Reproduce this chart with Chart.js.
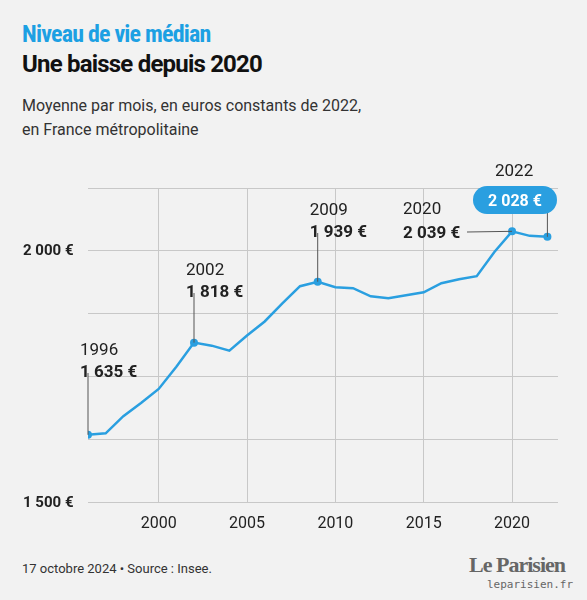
<!DOCTYPE html><html><head><meta charset="utf-8">
<script src="https://cdn.jsdelivr.net/npm/chart.js@4/dist/chart.umd.min.js"></script>
<style>body{margin:0;background:#f2f2f2;font-family:Roboto,sans-serif;width:587px;height:600px;position:relative;overflow:hidden}
#t1{position:absolute;left:22px;top:20px;font:bold 24px "Roboto Condensed",Roboto;color:#1ca0e3;letter-spacing:-0.8px}
#t2{position:absolute;left:22px;top:50px;font:bold 24px Roboto;color:#111;letter-spacing:-0.8px}
#sub{position:absolute;left:22px;top:94px;font:16px Roboto;color:#333;line-height:24px}
#src{position:absolute;left:22px;top:561px;font:13px Roboto;color:#333}
#logo{position:absolute;right:22px;top:552px;font:bold 22px "Liberation Sans Narrow",Georgia,serif;color:#666;letter-spacing:-1px}
#url{position:absolute;right:14px;top:578px;font:11px "DejaVu Sans Mono",monospace;color:#666}
#c{position:absolute;left:0;top:150px}</style></head><body>
<div id="t1">Niveau de vie médian</div><div id="t2">Une baisse depuis 2020</div>
<div id="sub">Moyenne par mois, en euros constants de 2022,<br>en France métropolitaine</div>
<div id="src">17 octobre 2024 • Source : Insee.</div>
<div id="logo">Le Parisien</div><div id="url">leparisien.fr</div>
<canvas id="c" width="587" height="396"></canvas>
<script>
const years=[1996,1997,1998,1999,2000,2001,2002,2003,2004,2005,2006,2007,2008,2009,2010,2011,2012,2013,2014,2015,2016,2017,2018,2019,2020,2021,2022];
const values=[1635,1638,1672,1698,1726,1770,1818,1812,1802,1832,1860,1896,1930,1939,1928,1926,1910,1906,1912,1918,1936,1944,1950,1998,2039,2030,2028];
const yTicks=[1500,1625,1750,1875,2000,2125];
const xTicks=[2000,2005,2010,2015,2020];
const labels=[{y:1996,t:'1 635 €',yr:'1996',top:355},{y:2002,t:'1 818 €',yr:'2002',top:275},{y:2009,t:'1 939 €',yr:'2009',top:215}];
const blue='#2a9fe0';
const ann={id:'ann',afterDatasetsDraw(ch){const c=ch.ctx,x=ch.scales.x,y=ch.scales.y;c.save();
 c.strokeStyle='#555';c.lineWidth=1;c.textAlign='left';c.textBaseline='alphabetic';
 labels.forEach(l=>{const px=x.getPixelForValue(l.y),py=y.getPixelForValue(values[years.indexOf(l.y)]);
  c.beginPath();c.moveTo(px,py);c.lineTo(px,l.top+10-150+8);c.stroke();
  c.fillStyle='#222';c.font='17px Roboto';c.fillText(l.yr,px-8,l.top-150);
  c.font='bold 17px Roboto';c.fillText(l.t,px-8,l.top-150+22);});
 let px=x.getPixelForValue(2020),py=y.getPixelForValue(2039);
 c.fillStyle='#222';c.font='17px Roboto';c.fillText('2020',403,214-150);
 c.font='bold 17px Roboto';c.fillText('2 039 €',403,238-150);
 c.beginPath();c.moveTo(467,232-150);c.lineTo(px,py);c.stroke();
 px=x.getPixelForValue(2022);py=y.getPixelForValue(2028);
 c.font='17px Roboto';c.fillText('2022',495,176-150);
 c.beginPath();c.moveTo(px,py);c.lineTo(px,212-150);c.stroke();
 c.fillStyle=blue;c.beginPath();c.roundRect(473,186-150,84,28,14);c.fill();
 c.fillStyle='#fff';c.font='bold 16px Roboto';c.textAlign='center';c.fillText('2 028 €',515,206-150);
 c.fillStyle='#222';c.font='bold 15px Roboto';c.textAlign='left';c.textBaseline='middle';
 c.fillText('2 000 €',23,y.getPixelForValue(2000));c.fillText('1 500 €',23,y.getPixelForValue(1500));
 c.restore();}};
new Chart(document.getElementById('c'),{type:'line',
 data:{datasets:[{data:years.map((v,i)=>({x:v,y:values[i]})),borderColor:blue,borderWidth:2.5,tension:0,
  pointRadius:years.map(v=>[1996,2002,2009,2020,2022].includes(v)?4:0),pointBackgroundColor:blue,pointBorderWidth:0}]},
 options:{responsive:false,animation:false,plugins:{legend:{display:false},tooltip:{enabled:false}},
  layout:{padding:{left:88,right:29,top:38,bottom:0}},
  scales:{x:{type:'linear',min:1996,max:2022.6,afterBuildTicks:a=>{a.ticks=xTicks.map(v=>({value:v}))},
    grid:{color:'#c8c8c8',drawTicks:false},border:{display:false},
    ticks:{color:'#222',font:{size:16,family:'Roboto'},padding:12,callback:v=>String(v)}},
   y:{min:1500,max:2125,afterBuildTicks:a=>{a.ticks=yTicks.map(v=>({value:v}))},
    grid:{color:'#c8c8c8',drawTicks:false},border:{display:false},ticks:{display:false}}}},
 plugins:[ann]});
</script></body></html>
